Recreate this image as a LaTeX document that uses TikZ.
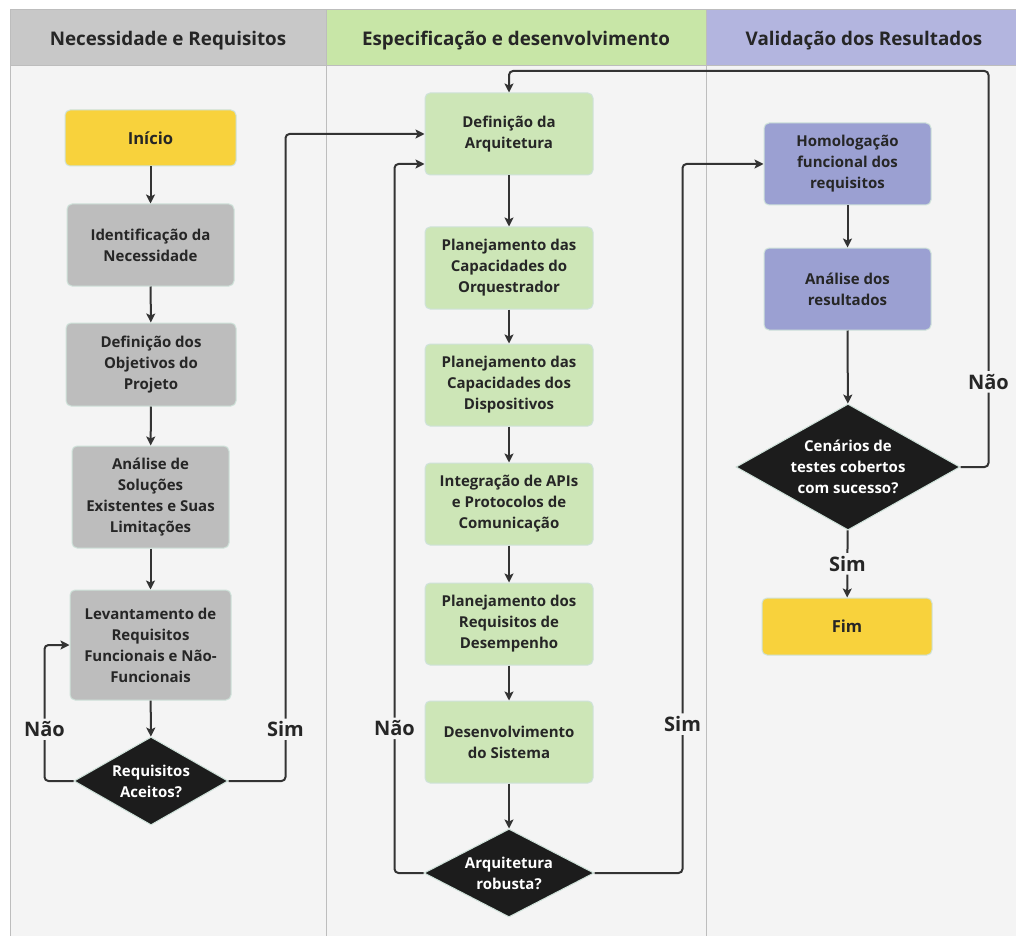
\documentclass[tikz,border=0pt]{standalone}
\usepackage{fontspec}
\setmainfont{Open Sans}
\usetikzlibrary{arrows.meta,shapes.geometric}
\definecolor{hdG}{HTML}{C8C8C8}
\definecolor{hdV}{HTML}{C8E6A7}
\definecolor{hdP}{HTML}{B3B5DF}
\definecolor{laneBg}{HTML}{F4F4F4}
\definecolor{laneLn}{HTML}{BDBDBD}
\definecolor{boxG}{HTML}{BDBDBD}
\definecolor{boxV}{HTML}{CDE6B7}
\definecolor{boxP}{HTML}{9BA0D2}
\definecolor{boxY}{HTML}{F8D23C}
\definecolor{boxEdge}{HTML}{CFE2DA}
\definecolor{decFill}{HTML}{1C1C1C}
\definecolor{txtD}{HTML}{262626}
\definecolor{lnD}{HTML}{333333}

\begin{document}
\begin{tikzpicture}[x=0.5pt,y=-0.5pt,
  >={Stealth[length=4.5pt,width=4.5pt,inset=1pt]},
  box/.style={draw=boxEdge,line width=0.5pt,rounded corners=2.5pt,align=center,
    font=\fontsize{7.5}{10.5}\selectfont\bfseries,text=txtD,inner sep=0pt},
  grbox/.style={box,fill=boxG,minimum width=#1},
  vbox/.style={box,fill=boxV,minimum width=84pt,minimum height=41pt},
  pbox/.style={box,fill=boxP,minimum width=83.5pt,minimum height=41pt},
  ybox/.style={box,fill=boxY,font=\fontsize{8.3}{10}\selectfont\bfseries},
  decision/.style={diamond,draw=boxEdge,line width=0.5pt,fill=decFill,text=white,
    align=center,inner sep=0pt,font=\fontsize{7.5}{10.5}\selectfont\bfseries},
  lanehead/.style={fill=#1,draw=laneLn,line width=0.5pt},
  headtxt/.style={font=\fontsize{9.4}{11}\selectfont\bfseries,text=txtD},
  arr/.style={->,draw=lnD,line width=1pt,rounded corners=2pt},
  lbl/.style={fill=laneBg,text=txtD,inner sep=1.5pt,font=\fontsize{10}{11}\selectfont\bfseries}]
\useasboundingbox (0,0) rectangle (1016,936);
\fill[white] (0,0) rectangle (1016,936);
% raias
\fill[laneBg] (10,66) rectangle (1016,936);
\draw[laneLn,line width=0.5pt] (10,66)--(10,936) (326,66)--(326,936) (706,66)--(706,936);
\path[lanehead=hdG] (10,10) rectangle (326,66);
\path[lanehead=hdV] (326,10) rectangle (706,66);
\path[lanehead=hdP] (706,10) rectangle (1016,66);
\node[headtxt] (h1) at (168,41) {Necessidade e Requisitos};
\node[headtxt] (h2) at (516,41) {Especificação e desenvolvimento};
\node[headtxt] (h3) at (864,41) {Validação dos Resultados};

% necessidade e requisitos
\node[ybox,minimum width=85.5pt,minimum height=28pt] (inicio) at (150.5,138) {Início};
\node[grbox=83.5pt,minimum height=41pt] (ident) at (150.5,245) {Identificação da\\Necessidade};
\node[grbox=85pt,minimum height=41.5pt] (objet) at (151,364.5) {Definição dos\\Objetivos do\\Projeto};
\node[grbox=78.5pt,minimum height=51pt] (solu) at (150.5,497) {Análise de\\Soluções\\Existentes e Suas\\Limitações};
\node[grbox=80.5pt,minimum height=55pt] (levant) at (150.5,645) {Levantamento de\\Requisitos\\Funcionais e Não-\\Funcionais};
\node[decision,aspect=1.75,minimum width=77pt,minimum height=44pt] (req) at (151,781) {Requisitos\\Aceitos?};

% especificacao
\node[vbox] (defarq) at (509,134) {Definição da\\Arquitetura};
\node[vbox] (orq) at (509,268) {Planejamento das\\Capacidades do\\Orquestrador};
\node[vbox] (disp) at (509,385) {Planejamento das\\Capacidades dos\\Dispositivos};
\node[vbox] (apis) at (509,504) {Integração de APIs\\e Protocolos de\\Comunicação};
\node[vbox] (desemp) at (509,624) {Planejamento dos\\Requisitos de\\Desempenho};
\node[vbox] (desenv) at (509,742) {Desenvolvimento\\do Sistema};
\node[decision,aspect=1.93,minimum width=85pt,minimum height=44pt] (arqrob) at (509,873) {Arquitetura\\robusta?};

% validacao
\node[pbox] (homol) at (847.5,164) {Homologação\\funcional dos\\requisitos};
\node[pbox] (anres) at (847.5,289) {Análise dos\\resultados};
\node[decision,aspect=1.78,minimum width=112pt,minimum height=63pt] (cen) at (848,467) {Cenários de\\testes cobertos\\com sucesso?};
\node[ybox,minimum width=85pt,minimum height=28.5pt] (fim) at (847,626.5) {Fim};

% fluxo
\draw[arr] (inicio) -- (ident);
\draw[arr] (ident) -- (objet);
\draw[arr] (objet) -- (solu);
\draw[arr] (solu) -- (levant);
\draw[arr] (levant) -- (req);
\draw[arr] (req.west) -- ++(-29,0) |- (levant.west) node[lbl,pos=0.19]{Não};
\draw[arr] (req.east) -- ++(57,0) |- (defarq.west) node[lbl,pos=0.04]{Sim};
\draw[arr] (defarq) -- (orq);
\draw[arr] (orq) -- (disp);
\draw[arr] (disp) -- (apis);
\draw[arr] (apis) -- (desemp);
\draw[arr] (desemp) -- (desenv);
\draw[arr] (desenv) -- (arqrob);
\draw[arr] (arqrob.west) -- ++(-29,0) |- ([yshift=-15pt]defarq.west) node[lbl,pos=0.102]{Não};
\draw[arr] (arqrob.east) -- ++(88,0) |- (homol.west) node[lbl,pos=0.105]{Sim};
\draw[arr] (homol) -- (anres);
\draw[arr] (anres) -- (cen);
\draw[arr] (cen.east) -- ++(28,0) -- ++(0,-396) node[lbl,pos=0.215]{Não} -| (defarq.north);
\draw[arr] (cen) -- (fim) node[lbl,midway]{Sim};
\end{tikzpicture}
\end{document}
